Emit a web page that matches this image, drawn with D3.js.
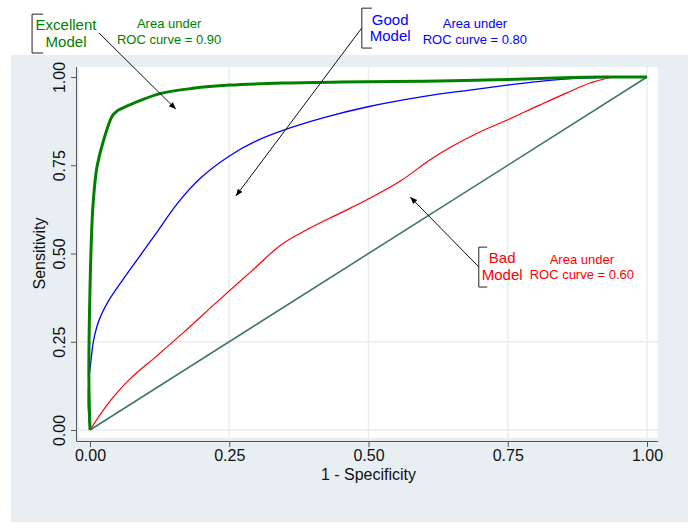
<!DOCTYPE html>
<html>
<head>
    <title>ROC curves</title>
    <script src="https://d3js.org/d3.v7.min.js"></script>
    <style>
        body { margin: 0; background: #fff; }
        svg { font-family: "Liberation Sans", Arial, sans-serif; }
    </style>
</head>
<body>
    <div id="chart"></div>

    <script>
        // curves: [1 - specificity, sensitivity]
        const excellentCurve = [[0,0],[-0.002,0.15],[0,0.4],[0.004,0.6],[0.006,0.65],[0.012,0.74],[0.023,0.813],
            [0.039,0.887],[0.046,0.9],[0.052,0.907],[0.08,0.927],[0.126,0.953],[0.185,0.968],[0.251,0.977],[0.35,0.983],
            [0.45,0.986],[0.6,0.988],[0.75,0.993],[0.85,0.998],[0.92,1.0],[1,1]];
        const goodCurve = [[0,0],[-0.003,0.06],[-0.002,0.14],[0.002,0.2],[0.006,0.25],[0.016,0.31],[0.033,0.365],
            [0.06,0.428],[0.09,0.494],[0.12,0.56],[0.156,0.64],[0.198,0.713],[0.251,0.777],[0.3,0.82],[0.354,0.853],
            [0.42,0.885],[0.497,0.915],[0.6,0.945],[0.682,0.963],[0.749,0.977],[0.82,0.99],[0.88,0.997],
            [0.946,1.0],[1,1]];
        const badCurve = [[0,0],[0.03,0.07],[0.07,0.142],[0.12,0.21],[0.167,0.275],[0.233,0.37],[0.29,0.45],
            [0.341,0.522],[0.395,0.572],[0.45,0.615],[0.497,0.652],[0.56,0.708],[0.61,0.765],[0.652,0.805],
            [0.697,0.842],[0.749,0.878],[0.808,0.921],[0.856,0.955],[0.898,0.983],[0.946,1.0],[1,1]];
        const chanceLine = [[0,0],[1,1]];

        const tickValues = [0, 0.25, 0.5, 0.75, 1];
        const tickLabels = ["0.00", "0.25", "0.50", "0.75", "1.00"];
        const xGridValues = [0.25, 0.5, 0.75, 1];
        const yGridValues = [0, 0.25];

        // annotations, positioned in data units
        const labelTexts = [["Excellent", "Model"], ["Good", "Model"], ["Bad", "Model"]];
        const areaTexts = ["0.90", "0.80", "0.60"];
        const labelColors = ["#008000", "#0000ff", "#ff0000"];

        const width = 688, height = 523;
        const x = d3.scaleLinear().domain([0, 1]).range([90, 647]);
        const y = d3.scaleLinear().domain([0, 1]).range([430, 77]);

        const svg = d3.select("#chart").append("svg")
            .attr("width", width)
            .attr("height", height);

        // graph region + plot region
        svg.append("rect").attr("x", 11).attr("y", 55).attr("width", 677).attr("height", 467).attr("fill", "#e8eff2");
        svg.append("rect").attr("x", 79).attr("y", 67).attr("width", 579).attr("height", 371).attr("fill", "#fff");

        // grid
        svg.selectAll(".vgrid").data(xGridValues).enter().append("line")
            .attr("x1", d => x(d)).attr("x2", d => x(d))
            .attr("y1", 67).attr("y2", 438)
            .attr("stroke", "#e6eef1").attr("stroke-width", 1.5);
        svg.selectAll(".hgrid").data(yGridValues).enter().append("line")
            .attr("x1", 79).attr("x2", 658)
            .attr("y1", d => y(d)).attr("y2", d => y(d))
            .attr("stroke", "#e6eef1").attr("stroke-width", 1.5);

        // axes
        const xAxis = d3.axisBottom(x).tickValues(tickValues).tickFormat((d, i) => tickLabels[i]).tickSize(6).tickSizeOuter(0);
        const gx = svg.append("g").attr("transform", "translate(0,441)").call(xAxis);
        gx.select(".domain").attr("d", "M76.5,0.5H658").attr("stroke", "#555");
        gx.selectAll(".tick line").attr("stroke", "#555");
        gx.selectAll(".tick text").attr("font-size", 16).attr("fill", "#111").attr("y", 9);

        const yAxis = d3.axisLeft(y).tickValues(tickValues).tickFormat((d, i) => tickLabels[i]).tickSize(6).tickSizeOuter(0);
        const gy = svg.append("g").attr("transform", "translate(77,0)").call(yAxis);
        gy.select(".domain").attr("d", "M-0.5,67V441").attr("stroke", "#555");
        gy.selectAll(".tick line").attr("stroke", "#555");
        gy.selectAll(".tick text")
            .attr("font-size", 16).attr("fill", "#111")
            .attr("x", null).attr("dy", null)
            .attr("text-anchor", "middle")
            .attr("transform", "translate(-12,0) rotate(-90)");

        svg.append("text").attr("x", x(0.5)).attr("y", 480).attr("text-anchor", "middle")
            .attr("font-size", 16).attr("fill", "#111").text("1 - Specificity");
        svg.append("text").attr("transform", `translate(45,${y(0.5)}) rotate(-90)`).attr("text-anchor", "middle")
            .attr("font-size", 16).attr("fill", "#111").text("Sensitivity");

        // curves
        const smooth = d3.line().x(d => x(d[0])).y(d => y(d[1])).curve(d3.curveCatmullRom.alpha(0.5));
        const mono = d3.line().x(d => x(d[0])).y(d => y(d[1])).curve(d3.curveMonotoneX);
        const series = [
            { data: chanceLine, color: "#3c786f", w: 1.6, line: smooth },
            { data: badCurve, color: "#ff0000", w: 1.2, line: mono },
            { data: goodCurve, color: "#0000ff", w: 1.3, line: smooth },
            { data: excellentCurve, color: "#008000", w: 3, line: smooth }
        ];
        svg.selectAll(".curve").data(series).enter().append("path")
            .attr("d", d => d.line(d.data))
            .attr("fill", "none")
            .attr("stroke", d => d.color)
            .attr("stroke-width", d => d.w);

        // annotation geometry (data units)
        const labelX = [-0.043, 0.539, 0.74];
        const labelY = [[1.133, 1.085], [1.147, 1.102], [0.473, 0.425]];
        const areaX = [0.142, 0.691, 0.883];
        const areaY = [[1.139, 1.093], [1.139, 1.093], [0.47, 0.428]];
        const bracketX = [[-0.104, -0.084], [0.488, 0.506], [0.698, 0.713]];
        const bracketY = [[1.178, 1.068], [1.195, 1.082], [0.518, 0.405]];
        const arrows = [[[0.016, 1.125], [0.154, 0.909]], [[0.488, 1.139], [0.262, 0.663]], [[0.698, 0.462], [0.575, 0.66]]];

        svg.append("defs").append("marker")
            .attr("id", "arrow").attr("viewBox", "0 0 10 10")
            .attr("refX", 10).attr("refY", 5)
            .attr("markerWidth", 7).attr("markerHeight", 7)
            .attr("markerUnits", "userSpaceOnUse")
            .attr("orient", "auto")
            .append("path").attr("d", "M0,1L10,5L0,9Z").attr("fill", "#000");

        labelTexts.forEach((lines, i) => {
            const bx0 = x(bracketX[i][0]), bx1 = x(bracketX[i][1]);
            const by0 = y(bracketY[i][0]), by1 = y(bracketY[i][1]);
            svg.append("path")
                .attr("d", `M${bx1},${by0}H${bx0}V${by1}H${bx1}`)
                .attr("fill", "none").attr("stroke", "#222").attr("stroke-width", 1);

            lines.forEach((t, j) => {
                svg.append("text").attr("x", x(labelX[i])).attr("y", y(labelY[i][j]))
                    .attr("text-anchor", "middle").attr("font-size", 15)
                    .attr("fill", labelColors[i]).text(t);
            });
            ["Area under", "ROC curve = " + areaTexts[i]].forEach((t, j) => {
                svg.append("text").attr("x", x(areaX[i])).attr("y", y(areaY[i][j]))
                    .attr("text-anchor", "middle").attr("font-size", 13)
                    .attr("fill", labelColors[i]).text(t);
            });

            const a = arrows[i];
            svg.append("line")
                .attr("x1", x(a[0][0])).attr("y1", y(a[0][1]))
                .attr("x2", x(a[1][0])).attr("y2", y(a[1][1]))
                .attr("stroke", "#111").attr("stroke-width", 1)
                .attr("marker-end", "url(#arrow)");
        });
    </script>
</body>
</html>
